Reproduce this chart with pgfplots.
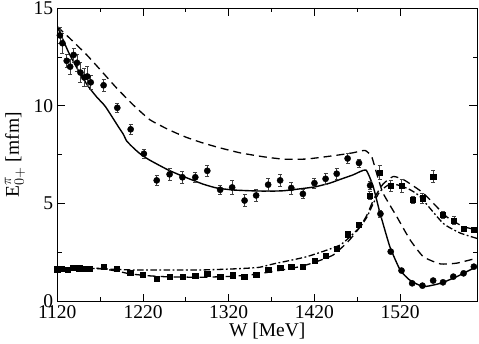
\documentclass[border=0pt]{standalone}
\usepackage{fontspec}
\setmainfont{Liberation Serif}
\usepackage{pgfplots}
\pgfplotsset{compat=1.18}
\newcommand{\fs}{\fontsize{19.5}{23}\selectfont}
\begin{document}
\begin{tikzpicture}
\begin{axis}[
  scale only axis, width=420pt, height=293.5pt,
  xmin=1120, xmax=1610, ymin=0, ymax=15,
  xtick={1120,1220,1320,1420,1520}, ytick={0,5,10,15},
  minor x tick num=1, minor y tick num=1,
  tick align=inside, major tick length=8pt, minor tick length=4.5pt,
  axis line style={line width=0.9pt}, tick style={line width=0.8pt, black},
  /pgf/number format/assume math mode=true,
  /pgf/number format/1000 sep={},
  every tick label/.append style={font=\fs},
  xticklabel style={inner sep=0pt, yshift=-3.5pt},
  yticklabel style={inner sep=0pt, xshift=-4pt},
  every axis x label/.style={at={([yshift=-29.5pt]axis description cs:0.5,0)}, anchor=center, inner sep=0pt, font=\fs},
  every axis y label/.style={at={([xshift=-42.3pt]axis description cs:0,0.5)}, anchor=center, rotate=90, inner sep=0pt, font=\fs},
  xlabel={W [MeV]},
  ylabel={E$^{\pi}_{0+}$ [mfm]},
  clip=true,
]
\coordinate (ll) at (rel axis cs:0,0);
% Re model 1 (solid)
\addplot[black, line width=1.4pt, smooth, tension=0.3] coordinates {
(1120,14.05)(1133,12.75)(1144,11.85)(1156,11.0)(1166,10.45)(1176,9.97)(1191,8.95)(1197,8.55)(1201,8.2)(1210,7.8)(1218,7.5)(1228,7.22)(1249,6.73)(1267,6.39)(1290,6.0)(1306,5.8)(1325,5.7)(1345,5.66)(1365,5.64)(1384,5.66)(1411,5.8)(1422,5.87)(1438,6.05)(1450,6.24)(1465,6.47)(1480,6.72)(1488.5,5.88)(1496,4.6)(1508,2.8)(1520,1.61)(1531,1.1)(1547,0.76)(1567,0.93)(1586,1.27)(1610,1.8)};
% Re model 2 (dashed)
\addplot[black, line width=1.3pt, dash pattern=on 8pt off 5pt, smooth, tension=0.3] coordinates {
(1120,14.05)(1137,13.35)(1154,12.62)(1170,11.85)(1189,10.92)(1208,10.07)(1228,9.29)(1250,8.78)(1270,8.4)(1290,8.1)(1310,7.85)(1333,7.6)(1360,7.4)(1385,7.27)(1410,7.28)(1430,7.38)(1450,7.5)(1465,7.6)(1479,7.72)(1486.7,7.41)(1492.5,6.56)(1500,5.54)(1516,4.34)(1531.6,3.15)(1547,2.29)(1567,1.92)(1586,1.96)(1610,2.22)};
% Im model 2 (dashed)
\addplot[black, line width=1.3pt, dash pattern=on 8pt off 5pt, smooth, tension=0.3] coordinates {
(1120,1.7)(1166,1.7)(1190,1.55)(1205,1.41)(1228,1.31)(1250,1.26)(1286,1.24)(1320,1.28)(1345,1.36)(1370,1.52)(1403,1.78)(1420,2.0)(1442,2.38)(1460,3.1)(1473,3.8)(1481,4.4)(1490,5.3)(1500,6.0)(1512,6.39)(1525,6.2)(1547,5.54)(1574,4.34)(1593.5,3.83)(1610,3.66)};
% Im model 1 (dash-dot)
\addplot[black, line width=1.3pt, dash pattern=on 6.5pt off 2.5pt on 1.8pt off 2.5pt, smooth, tension=0.3] coordinates {
(1120,1.7)(1154,1.7)(1209,1.61)(1286,1.61)(1333,1.68)(1356,1.75)(1372,1.92)(1411,2.29)(1450,2.89)(1473,3.8)(1481,4.3)(1488.5,5.0)(1496,5.6)(1506,5.95)(1516,5.97)(1530,5.75)(1543,5.37)(1570,4.0)(1590,3.5)(1610,3.22)};
% Re data (circles)
\addplot[only marks, mark=*, mark size=3.1pt, black,
  error bars/.cd, y dir=both, y explicit,
  error bar style={line width=0.6pt, black!75},
  error mark options={rotate=90, mark size=2pt, line width=0.6pt, black!75}]
 table[x=x, y=y, y error=e] {
x y e
1123 13.6 0.4
1126 13.2 0.5
1131 12.3 0.35
1135 12.0 0.4
1139 12.6 0.35
1143 12.2 0.45
1147 11.7 0.5
1151.5 11.45 0.45
1155 11.5 0.5
1159 11.2 0.35
1174 11.05 0.3
1190 9.9 0.25
1205.6 8.8 0.25
1221 7.55 0.25
1236 6.19 0.25
1251 6.5 0.3
1266 6.35 0.3
1281 6.35 0.25
1295 6.68 0.3
1310 5.71 0.25
1324 5.83 0.35
1338.5 5.16 0.3
1352 5.42 0.3
1366 5.97 0.35
1380 6.19 0.3
1393 5.8 0.3
1406.5 5.5 0.25
1420 6.05 0.25
1433 6.27 0.3
1446 6.53 0.3
1458.7 7.31 0.25
1472 7.08 0.2
1485 5.93 0.2
1497 4.48 0.2
1509 2.55 0
1521.6 1.58 0
1534 0.93 0
1546 0.81 0
1558.5 1.07 0
1570 0.98 0
1582 1.27 0
1594 1.44 0
1606 1.78 0
};
% Im data (squares)
\addplot[only marks, mark=square*, mark size=2.6pt, black,
  error bars/.cd, y dir=both, y explicit,
  error bar style={line width=0.6pt, black!75},
  error mark options={rotate=90, mark size=2pt, line width=0.6pt, black!75}]
 table[x=x, y=y, y error=e] {
x y e
1120 1.65 0
1125 1.66 0
1132 1.61 0
1138.5 1.73 0
1145.5 1.7 0
1151 1.68 0
1158 1.68 0
1174 1.78 0
1189 1.66 0
1205 1.49 0
1220 1.36 0
1236 1.15 0
1251 1.27 0
1266 1.25 0
1281 1.31 0
1295 1.42 0
1310 1.25 0
1324.5 1.34 0
1338 1.27 0
1352 1.36 0
1366 1.61 0
1380 1.73 0
1393 1.77 0
1406.5 1.77 0
1420 2.09 0
1433 2.35 0
1446 2.69 0
1458.6 3.44 0
1472 3.92 0
1484.5 5.42 0.2
1496 6.6 0.35
1509 5.91 0.3
1521.6 5.91 0.35
1534.5 5.2 0.2
1546 5.28 0.25
1558.5 6.39 0.3
1570 4.43 0.2
1582.6 4.14 0.2
1594 3.71 0.1
1606 3.66 0.1
};
\end{axis}
\pgfresetboundingbox
\path ([shift={(-57.3pt,-41.5pt)}]ll) rectangle ([shift={(421.7pt,301.5pt)}]ll);
\end{tikzpicture}
\end{document}
